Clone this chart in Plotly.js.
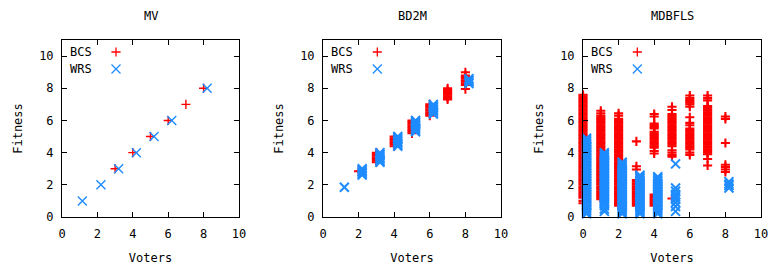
<!DOCTYPE html>
<html><head><meta charset="utf-8">
<script src="https://cdn.plot.ly/plotly-3.0.1.min.js"></script>
<style>html,body{margin:0;padding:0;background:#fff;} #chart{width:771px;height:265px;}</style>
</head><body><div id="chart"></div>
<script>
// ---------- data ----------
const panelTitles = ['MV', 'BD2M', 'MDBFLS'];
const seriesNames = ['BCS', 'WRS'];
const xAxisTitle = 'Voters';
const yAxisTitle = 'Fitness';
const xTickVals = [0, 2, 4, 6, 8, 10];
const yTickVals = [0, 2, 4, 6, 8, 10];

// MV
const mvBcsX = [3, 4, 5, 6, 7, 8];
const mvBcsY = [[3], [4], [5], [6], [7], [8]];
const mvWrsX = [1.15, 2.2, 3.2, 4.2, 5.2, 6.2, 8.2];
const mvWrsY = [[1], [2], [3], [4], [5], [6], [8]];

// BD2M
const bd2mBcsX = [2, 3, 4, 5, 6, 7, 8];
const bd2mBcsY = [
  [2.85],
  [3.4, 3.5, 3.6, 3.7, 3.8, 3.9, 4.0],
  [4.4, 4.5, 4.6, 4.7, 4.8, 4.9, 5.0],
  [5.2, 5.3, 5.4, 5.5, 5.6, 5.7, 5.8, 5.9, 6.0],
  [6.3, 6.4, 6.5, 6.6, 6.7, 6.8, 6.9, 7.0],
  [7.3, 7.4, 7.5, 7.6, 7.7, 7.8, 7.9, 8.0],
  [7.95, 8.2, 8.3, 8.4, 8.5, 8.6, 8.7, 8.8, 9.0]
];
const bd2mWrsX = [1.2, 2.2, 3.2, 4.2, 5.2, 6.2, 8.2];
const bd2mWrsY = [
  [1.85],
  [2.6, 2.7, 2.8, 2.9, 3.0],
  [3.4, 3.5, 3.6, 3.7, 3.8, 3.9, 4.0],
  [4.4, 4.5, 4.6, 4.7, 4.8, 4.9, 5.0],
  [5.3, 5.4, 5.5, 5.6, 5.7, 5.8, 5.9, 6.0],
  [6.4, 6.5, 6.6, 6.7, 6.8, 6.9, 7.0],
  [8.3, 8.4, 8.5, 8.6]
];

// MDBFLS
const mdbBcsX = [0, 1, 2, 3, 4, 5, 6, 7, 8];
const mdbBcsY = [
  [0.85, 1.0, 1.2, 1.3, 1.4, 1.5, 1.6, 1.7, 1.8, 1.9, 2.0, 2.1, 2.2, 2.3, 2.4, 2.5, 2.6, 2.7, 2.8, 2.9, 3.0, 3.1, 3.2, 3.3, 3.4, 3.5, 3.6, 3.7, 3.8, 3.9, 4.0, 4.1, 4.2, 4.3, 4.4, 4.5, 4.6, 4.7, 4.8, 4.9, 5.0, 5.1, 5.2, 5.3, 5.4, 5.5, 5.6, 5.7, 5.8, 5.9, 6.0, 6.1, 6.2, 6.3, 6.4, 6.5, 6.6, 6.7, 6.8, 6.9, 7.0, 7.1, 7.2, 7.3, 7.4, 7.5, 7.6],
  [1.1, 1.2, 1.3, 1.4, 1.5, 1.6, 1.7, 1.8, 1.9, 2.0, 2.1, 2.2, 2.3, 2.4, 2.5, 2.6, 2.7, 2.8, 2.9, 3.0, 3.1, 3.2, 3.3, 3.4, 3.5, 3.6, 3.7, 3.8, 3.9, 4.0, 4.1, 4.2, 4.3, 4.4, 4.5, 4.6, 4.7, 4.8, 4.9, 5.0, 5.1, 5.2, 5.3, 5.4, 5.5, 5.6, 5.7, 5.8, 5.9, 6.0, 6.1, 6.2, 6.3, 6.45, 6.6],
  [0.7, 0.8, 0.9, 1.0, 1.1, 1.2, 1.3, 1.4, 1.5, 1.6, 1.7, 1.8, 1.9, 2.0, 2.1, 2.2, 2.3, 2.4, 2.5, 2.6, 2.7, 2.8, 2.9, 3.0, 3.1, 3.2, 3.3, 3.4, 3.5, 3.6, 3.7, 3.8, 3.9, 4.0, 4.1, 4.2, 4.3, 4.4, 4.5, 4.6, 4.7, 4.8, 4.9, 5.0, 5.1, 5.2, 5.3, 5.4, 5.5, 5.6, 5.7, 5.8, 5.9, 6.0, 6.1, 6.3, 6.45],
  [0.7, 0.8, 0.9, 1.0, 1.1, 1.2, 1.3, 1.4, 1.5, 1.6, 1.7, 1.8, 1.9, 2.0, 2.1, 2.2, 2.3, 2.95, 3.15, 4.7],
  [0.7, 0.8, 0.9, 1.0, 1.1, 1.2, 1.3, 1.4, 3.95, 4.1, 4.3, 4.4, 4.5, 4.6, 4.7, 4.8, 4.9, 5.0, 5.1, 5.2, 5.3, 5.5, 5.6, 5.7, 5.8, 6.25, 6.4],
  [1.15, 3.75, 3.85, 4.0, 4.15, 4.4, 4.5, 4.6, 4.7, 4.8, 4.9, 5.0, 5.1, 5.2, 5.3, 5.4, 5.5, 5.6, 5.7, 5.8, 5.9, 6.0, 6.1, 6.2, 6.3, 6.4, 6.65, 6.85],
  [3.85, 4.0, 4.2, 4.3, 4.4, 4.5, 4.6, 4.7, 4.8, 4.9, 5.0, 5.1, 5.2, 5.3, 5.4, 5.5, 5.7, 5.85, 6.2, 6.85, 7.0, 7.1, 7.2, 7.3, 7.4, 7.55],
  [3.2, 3.6, 3.9, 4.0, 4.1, 4.2, 4.3, 4.4, 4.5, 4.6, 4.7, 4.8, 4.9, 5.0, 5.1, 5.2, 5.3, 5.4, 5.5, 5.6, 5.7, 5.8, 5.9, 6.0, 6.1, 6.2, 6.3, 6.4, 6.5, 6.6, 6.7, 6.8, 6.9, 7.25, 7.4, 7.55],
  [2.8, 2.95, 3.1, 3.25, 4.6, 6.1, 6.25]
];
const mdbWrsX = [0.2, 1.2, 2.2, 3.2, 4.2, 5.2, 8.2];
const mdbWrsY = [
  [0.2, 0.3, 0.4, 0.5, 0.6, 0.7, 0.8, 0.9, 1.0, 1.1, 1.2, 1.3, 1.4, 1.5, 1.6, 1.7, 1.8, 1.9, 2.0, 2.1, 2.2, 2.3, 2.4, 2.5, 2.6, 2.7, 2.8, 2.9, 3.0, 3.1, 3.2, 3.3, 3.4, 3.5, 3.6, 3.7, 3.8, 3.9, 4.0, 4.1, 4.2, 4.3, 4.4, 4.5, 4.6, 4.7, 4.8, 4.9],
  [0.35, 0.5, 0.7, 0.8, 0.9, 1.0, 1.1, 1.2, 1.3, 1.4, 1.5, 1.6, 1.7, 1.8, 1.9, 2.0, 2.1, 2.2, 2.3, 2.4, 2.5, 2.6, 2.7, 2.8, 2.9, 3.0, 3.1, 3.2, 3.3, 3.4, 3.5, 3.6, 3.7, 3.8, 3.9, 4.0],
  [0.2, 0.3, 0.4, 0.5, 0.6, 0.7, 0.8, 0.9, 1.0, 1.1, 1.2, 1.3, 1.4, 1.5, 1.6, 1.7, 1.8, 1.9, 2.0, 2.1, 2.2, 2.3, 2.4, 2.5, 2.6, 2.7, 2.8, 2.9, 3.0, 3.1, 3.2, 3.3, 3.4],
  [0.2, 0.3, 0.4, 0.5, 0.6, 0.7, 0.8, 0.9, 1.0, 1.1, 1.2, 1.3, 1.4, 1.5, 1.6, 1.7, 1.8, 1.9, 2.0, 2.1, 2.2, 2.3, 2.4, 2.5, 2.6],
  [0.2, 0.3, 0.4, 0.5, 0.6, 0.7, 0.8, 0.9, 1.0, 1.1, 1.2, 1.3, 1.4, 1.5, 1.6, 1.7, 1.8, 1.9, 2.0, 2.1, 2.2, 2.3, 2.4, 2.5],
  [0.35, 0.65, 0.9, 1.1, 1.25, 1.4, 1.6, 1.8, 3.3],
  [1.8, 1.95, 2.05, 2.2]
];

// ---------- build ----------
const FONT = 'DejaVu Sans Mono';
const RED = '#ff0000';
const BLUE = '#1e8cff';
const W = 771, H = 265;
const M = {l: 62, r: 10, t: 40, b: 48};
const PW = W - M.l - M.r;
const panelPx = [[62, 239], [323, 501], [583, 761]];
const domains = panelPx.map(p => [(p[0] - M.l) / PW, (p[1] - M.l) / PW]);
const panelLineW = [1.4, 2.0, 2.1];

function flat(xs, ys) {
  const x = [], y = [];
  xs.forEach((xv, i) => ys[i].forEach(v => { x.push(xv); y.push(v); }));
  return {x, y};
}

const panelData = [
  [flat(mvBcsX, mvBcsY), flat(mvWrsX, mvWrsY)],
  [flat(bd2mBcsX, bd2mBcsY), flat(bd2mWrsX, bd2mWrsY)],
  [flat(mdbBcsX, mdbBcsY), flat(mdbWrsX, mdbWrsY)]
];

const bcsMarker = w => ({symbol: 'cross-thin-open', size: 6.5, color: RED, line: {width: w, color: RED}});
const wrsMarker = w => ({symbol: 'x-thin-open', size: 9, color: BLUE, line: {width: w, color: BLUE}});

const traces = [];
const layout = {
  width: W, height: H, margin: M,
  paper_bgcolor: '#fff', plot_bgcolor: '#fff',
  showlegend: false,
  font: {family: FONT, size: 12, color: '#000'},
  annotations: []
};

// legend key positions (fraction of each panel)
const keyX = 54 / 177, keyY = [1 - 12 / 177, 1 - 29 / 177], keyTextX = 6 / 177;

panelData.forEach((pd, i) => {
  const n = i + 1;
  const xs = n === 1 ? '' : String(n);
  const xa = 'x' + xs, ya = 'y' + xs;
  const lw = panelLineW[i];
  traces.push({type: 'scatter', mode: 'markers', name: seriesNames[0], x: pd[0].x, y: pd[0].y,
    xaxis: xa, yaxis: ya, marker: bcsMarker(lw), cliponaxis: false, hoverinfo: 'skip'});
  traces.push({type: 'scatter', mode: 'markers', name: seriesNames[1], x: pd[1].x, y: pd[1].y,
    xaxis: xa, yaxis: ya, marker: wrsMarker(Math.min(lw, 2)), cliponaxis: false, hoverinfo: 'skip'});

  const common = {
    ticks: 'inside', ticklen: 5, tickwidth: 1, tickcolor: '#000',
    showline: true, linecolor: '#000', linewidth: 1, mirror: 'ticks',
    showgrid: false, zeroline: false, fixedrange: true,
    tickfont: {family: FONT, size: 12, color: '#000'}
  };
  layout['xaxis' + xs] = Object.assign({}, common, {
    domain: domains[i], anchor: ya, range: [0, 10], tickvals: xTickVals, ticklabelstandoff: 6,
    title: {text: xAxisTitle, font: {family: FONT, size: 12, color: '#000'}}
  });
  layout['yaxis' + xs] = Object.assign({}, common, {
    domain: [0, 1], anchor: xa, range: [0, 11], tickvals: yTickVals, ticklabelstandoff: 5,
    title: {text: yAxisTitle, standoff: 13, font: {family: FONT, size: 12, color: '#000'}}
  });

  // legend overlay axes (sit on top of the panel, no background of their own)
  const ln = String(n + 3);
  layout['xaxis' + ln] = {overlaying: xa, range: [0, 1], visible: false, fixedrange: true, anchor: 'y' + ln};
  layout['yaxis' + ln] = {overlaying: ya, range: [0, 1], visible: false, fixedrange: true, anchor: 'x' + ln};
  traces.push({type: 'scatter', mode: 'markers', x: [keyX], y: [keyY[0]], xaxis: 'x' + ln, yaxis: 'y' + ln,
    marker: bcsMarker(1.3), hoverinfo: 'skip', cliponaxis: false});
  traces.push({type: 'scatter', mode: 'markers', x: [keyX], y: [keyY[1]], xaxis: 'x' + ln, yaxis: 'y' + ln,
    marker: wrsMarker(1.3), hoverinfo: 'skip', cliponaxis: false});

  seriesNames.forEach((s, k) => layout.annotations.push({
    text: s, xref: xa + ' domain', yref: ya + ' domain', x: keyTextX, y: keyY[k],
    xanchor: 'left', yanchor: 'middle', showarrow: false, font: {family: FONT, size: 12, color: '#000'}
  }));
  layout.annotations.push({
    text: panelTitles[i], xref: 'paper', yref: 'paper',
    x: (domains[i][0] + domains[i][1]) / 2, y: 1 + 24 / (H - M.t - M.b),
    xanchor: 'center', yanchor: 'middle', showarrow: false, font: {family: FONT, size: 12, color: '#000'}
  });
});

Plotly.newPlot('chart', traces, layout, {staticPlot: true, displayModeBar: false});
</script>
</body></html>
